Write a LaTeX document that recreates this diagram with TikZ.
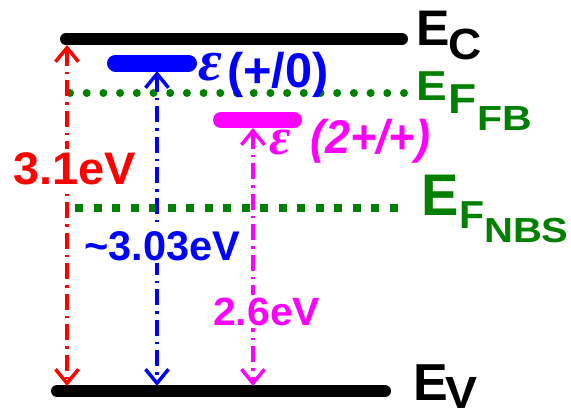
\documentclass[tikz,border=0pt]{standalone}
\usepackage{fontspec}
\usepackage{graphicx}
\setmainfont{Liberation Sans}
\newfontfamily\grkfont{Liberation Serif}
\usetikzlibrary{arrows.meta}
\definecolor{cred}{RGB}{255,0,0}
\definecolor{cblue}{RGB}{0,0,255}
\definecolor{cmag}{RGB}{255,0,255}
\definecolor{cgreen}{RGB}{0,128,0}
\newcommand\tx[3]{\scalebox{1}[#2]{\fontsize{#1}{#1}\selectfont #3}}
\newcommand\eps[1]{{\grkfont\itshape\fontsize{#1}{#1}\selectfont ε}}
\tikzset{
  lbl/.style={anchor=base west, inner sep=0pt, font=\bfseries},
  elbl/.style={anchor=base west, inner sep=3pt, fill=white, font=\bfseries},
  lvlbar/.style={line width=#1, line cap=round},
  ddarrow/.style={line width=3.5pt, dash pattern=on 16pt off 6pt on 2.5pt off 6pt,
    {Straight Barb[length=14pt,width=23pt]}-{Straight Barb[length=14pt,width=23pt]}},
  rounddots/.style={cgreen, line width=8pt, line cap=round, dash pattern=on 0pt off 16.7pt},
  sqdots/.style={cgreen, line width=8pt, dash pattern=on 8pt off 10.5pt}
}
\begin{document}
\begin{tikzpicture}[x=1pt,y=-1pt]
\useasboundingbox (0,0) rectangle (571,416);
% bands
\draw[lvlbar=12pt] (66,39) -- (402,39);
\draw[lvlbar=12pt] (57,391) -- (385,391);
% defect levels
\draw[lvlbar=17pt, cblue] (115.5,63) -- (188.5,63);
\draw[lvlbar=16pt, cmag] (221,120) -- (294,120);
% Fermi levels
\draw[rounddots] (70,93) -- (405,93);
\draw[sqdots] (75,208) -- (398,208);
% arrow end points
\coordinate (rtop) at (67,45);
\coordinate (rbot) at (67,386);
\coordinate (btop) at (157,71);
\coordinate (bbot) at (157,386);
\coordinate (mtop) at (253,128);
\coordinate (mbot) at (253,386);
\draw[ddarrow, cred] (rtop) -- (rbot);
\draw[ddarrow, cblue] (btop) -- (bbot);
\draw[ddarrow, cmag] (mtop) -- (mbot);
% band labels
\node[lbl] (ecE) at (416,45) {\tx{50}{1}{E}};
\node[lbl] (ecC) at (448,59) {\tx{46}{0.95}{C}};
\node[lbl, text=cgreen] (fbE) at (416.6,100) {\tx{46}{0.91}{E}};
\node[lbl, text=cgreen] (fbF) at (448.6,113) {\tx{46}{0.91}{F}};
\node[lbl, text=cgreen] (fbFB) at (477,130) {\tx{41}{0.85}{FB}};
\node[lbl, text=cgreen] (nbE) at (421,215) {\tx{56}{1.05}{E}};
\node[lbl, text=cgreen] (nbF) at (459,228) {\tx{41}{0.95}{F}};
\node[lbl, text=cgreen] (nbNBS) at (484,242) {\tx{40}{0.87}{NBS}};
\node[lbl] (evE) at (413,400) {\tx{52}{1.0}{E}};
\node[lbl] (evV) at (445,408) {\tx{48}{0.94}{V}};
% defect labels
\node[lbl, text=cblue] (epsb) at (198,80) {\eps{58}};
\node[lbl, text=cblue] (qb) at (227,87) {\tx{48.7}{1}{(+/0)}};
\node[lbl, text=cmag] (epsm) at (269,154) {\eps{52}};
\node[lbl, text=cmag, font=\bfseries\itshape] (qm) at (310,153) {\tx{45}{1.05}{(2+/+)}};
% energy labels
\node[elbl, text=cred] (er) at (10,184) {\tx{47}{0.97}{3.1eV}};
\node[elbl, text=cblue] (eb) at (81,260) {\tx{41.5}{1}{\textasciitilde3.03eV}};
\node[elbl, text=cmag] (em) at (210,325) {\tx{41}{0.96}{2.6eV}};
\end{tikzpicture}
\end{document}
